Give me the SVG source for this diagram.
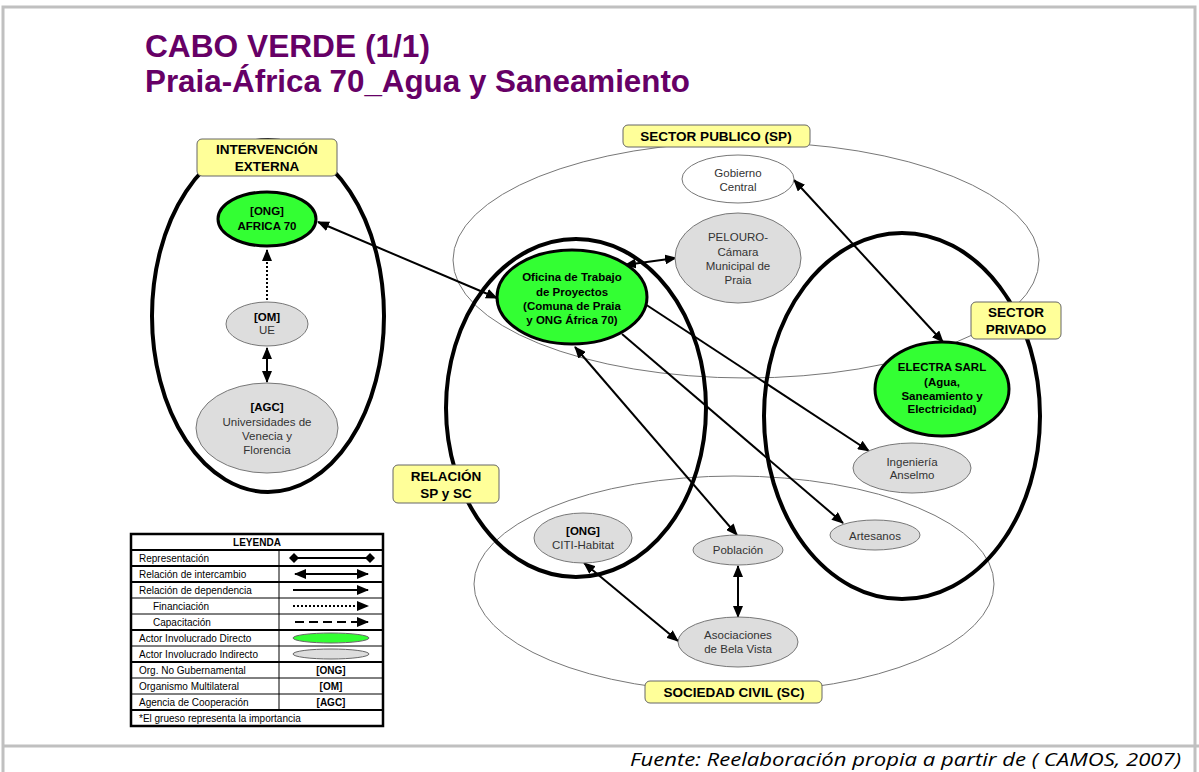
<svg xmlns="http://www.w3.org/2000/svg" width="1199" height="772" viewBox="0 0 1199 772">
<defs>
<style>
.t{font-family:"Liberation Sans",Arial,sans-serif}
.nt{font-family:"Liberation Sans",Arial,sans-serif;font-size:11.5px;fill:#333;text-anchor:middle}
.nb{font-family:"Liberation Sans",Arial,sans-serif;font-size:11.5px;font-weight:bold;fill:#000;text-anchor:middle}
.lb{font-family:"Liberation Sans",Arial,sans-serif;font-size:13.5px;font-weight:bold;fill:#000;text-anchor:middle}
.grp{fill:none;stroke:#000;stroke-width:4}
.sec{fill:none;stroke:#777;stroke-width:1}
.gray{fill:#dddddd;stroke:#777;stroke-width:1}
.green{fill:#33ff33;stroke:#000;stroke-width:3}
.box{fill:#ffff99;stroke:#666;stroke-width:1}
.c{fill:none;stroke:#000;stroke-width:2}
.lg{font-family:"Liberation Sans",Arial,sans-serif;font-size:10px;fill:#000}
.lgb{font-family:"Liberation Sans",Arial,sans-serif;font-size:10px;font-weight:bold;fill:#000;text-anchor:middle}
</style>
<marker id="ah" viewBox="0 0 12 10" refX="11" refY="5" markerWidth="12" markerHeight="10" markerUnits="userSpaceOnUse" orient="auto-start-reverse">
<path d="M0,0 L12,5 L0,10 z" fill="#000"/>
</marker>
<marker id="dm" viewBox="0 0 10 10" refX="5" refY="5" markerWidth="10" markerHeight="10" markerUnits="userSpaceOnUse" orient="auto">
<path d="M0,5 L5,0 L10,5 L5,10 z" fill="#000"/>
</marker>
</defs>
<rect width="1199" height="772" fill="#fff"/>
<g id="frame" fill="none" stroke="#c0c0c0" stroke-width="3">
<path d="M3,772 L3,7 L1195,7 L1195,772"/>
<path d="M3,746 L1199,746"/>
</g>
<g id="title">
<text class="t" x="145" y="57" font-size="32" font-weight="bold" fill="#660066" textLength="285" lengthAdjust="spacingAndGlyphs">CABO VERDE (1/1)</text>
<text class="t" x="145" y="92" font-size="32" font-weight="bold" fill="#660066" textLength="545" lengthAdjust="spacingAndGlyphs">Praia-África 70_Agua y Saneamiento</text>
</g>
<g id="groups">
<ellipse class="sec" cx="746" cy="260" rx="293" ry="118"/>
<ellipse class="sec" cx="734" cy="584" rx="260" ry="108"/>
<ellipse class="grp" cx="268" cy="316" rx="116" ry="176"/>
<ellipse class="grp" cx="576" cy="408" rx="130" ry="169"/>
<ellipse class="grp" cx="902" cy="416" rx="138" ry="183"/>
</g>
<g id="connectors">
<line class="c" x1="267" y1="300" x2="267" y2="250" stroke-dasharray="2,2" marker-end="url(#ah)"/>
<line class="c" x1="267" y1="348" x2="267" y2="382" marker-start="url(#ah)" marker-end="url(#ah)"/>
<line class="c" x1="318" y1="222" x2="497" y2="298" marker-start="url(#ah)" marker-end="url(#ah)"/>
<line class="c" x1="625" y1="265" x2="676" y2="258" marker-start="url(#ah)" marker-end="url(#ah)"/>
<line class="c" x1="794" y1="180" x2="943" y2="342" marker-start="url(#ah)" marker-end="url(#ah)"/>
<line class="c" x1="645" y1="304" x2="869" y2="451" marker-end="url(#ah)"/>
<line class="c" x1="622" y1="334" x2="843" y2="523" marker-end="url(#ah)"/>
<line class="c" x1="575" y1="347" x2="737" y2="535" marker-start="url(#ah)" marker-end="url(#ah)"/>
<line class="c" x1="584" y1="563" x2="678" y2="641" marker-start="url(#ah)" marker-end="url(#ah)"/>
<line class="c" x1="738" y1="566" x2="738" y2="617" marker-start="url(#ah)" marker-end="url(#ah)"/>
</g>
<g id="n-africa70">
<ellipse class="green" cx="267" cy="219" rx="49" ry="27" stroke-width="4"/>
<text class="nb" x="267" y="215">[ONG]</text>
<text class="nb" x="267" y="230">AFRICA 70</text>
</g>
<g id="n-ue">
<ellipse class="gray" cx="267" cy="324" rx="41" ry="22"/>
<text class="nb" x="267" y="321">[OM]</text>
<text class="nt" x="267" y="334">UE</text>
</g>
<g id="n-agc">
<ellipse class="gray" cx="267" cy="428" rx="71" ry="45"/>
<text class="nb" x="267" y="411">[AGC]</text>
<text class="nt" x="267" y="426">Universidades de</text>
<text class="nt" x="267" y="440">Venecia y</text>
<text class="nt" x="267" y="454">Florencia</text>
</g>
<g id="n-gobierno">
<ellipse cx="738" cy="179" rx="56" ry="24" fill="#fff" stroke="#777" stroke-width="1"/>
<text class="nt" x="738" y="177">Gobierno</text>
<text class="nt" x="738" y="191">Central</text>
</g>
<g id="n-pelouro">
<ellipse class="gray" cx="738" cy="258" rx="63" ry="45"/>
<text class="nt" x="738" y="241">PELOURO-</text>
<text class="nt" x="738" y="256">Cámara</text>
<text class="nt" x="738" y="270">Municipal de</text>
<text class="nt" x="738" y="284">Praia</text>
</g>
<g id="n-oficina">
<ellipse class="green" cx="572" cy="297" rx="75" ry="47"/>
<text class="nb" x="572" y="281">Oficina de Trabajo</text>
<text class="nb" x="572" y="296">de Proyectos</text>
<text class="nb" x="572" y="310">(Comuna de Praia</text>
<text class="nb" x="572" y="324">y ONG África 70)</text>
</g>
<g id="n-electra">
<ellipse class="green" cx="942" cy="389" rx="67" ry="47" fill="#66ff33"/>
<text class="nb" x="942" y="371">ELECTRA SARL</text>
<text class="nb" x="942" y="386">(Agua,</text>
<text class="nb" x="942" y="400">Saneamiento y</text>
<text class="nb" x="942" y="413">Electricidad)</text>
</g>
<g id="n-ingenieria">
<ellipse class="gray" cx="912" cy="468" rx="59" ry="25"/>
<text class="nt" x="912" y="466">Ingeniería</text>
<text class="nt" x="912" y="479">Anselmo</text>
</g>
<g id="n-artesanos">
<ellipse class="gray" cx="875" cy="535" rx="45" ry="15"/>
<text class="nt" x="875" y="540">Artesanos</text>
</g>
<g id="n-citi">
<ellipse class="gray" cx="583" cy="538" rx="49" ry="25"/>
<text class="nb" x="583" y="535">[ONG]</text>
<text class="nt" x="583" y="549">CITI-Habitat</text>
</g>
<g id="n-poblacion">
<ellipse class="gray" cx="738" cy="550" rx="45" ry="15"/>
<text class="nt" x="738" y="554">Población</text>
</g>
<g id="n-asociaciones">
<ellipse class="gray" cx="738" cy="642" rx="60" ry="25"/>
<text class="nt" x="738" y="639">Asociaciones</text>
<text class="nt" x="738" y="653">de Bela Vista</text>
</g>
<g id="labels">
<g id="l-intervencion">
<rect class="box" x="197" y="139" width="140" height="37" rx="5"/>
<text class="lb" x="267" y="154">INTERVENCIÓN</text>
<text class="lb" x="267" y="171">EXTERNA</text>
</g>
<g id="l-publico">
<rect class="box" x="623" y="125" width="187" height="22" rx="5"/>
<text class="lb" x="716" y="141">SECTOR PUBLICO (SP)</text>
</g>
<g id="l-privado">
<rect class="box" x="971" y="302" width="90" height="37" rx="5"/>
<text class="lb" x="1016" y="317">SECTOR</text>
<text class="lb" x="1016" y="334">PRIVADO</text>
</g>
<g id="l-relacion">
<rect class="box" x="393" y="465" width="106" height="38" rx="5"/>
<text class="lb" x="446" y="481">RELACIÓN</text>
<text class="lb" x="446" y="498">SP y SC</text>
</g>
<g id="l-civil">
<rect class="box" x="645" y="681" width="177" height="22" rx="5"/>
<text class="lb" x="734" y="697">SOCIEDAD CIVIL (SC)</text>
</g>
</g>
<g id="legend">
<rect x="131" y="534" width="252" height="192" fill="#fff" stroke="#000" stroke-width="2.5"/>
<g stroke="#000" stroke-width="1">
<line x1="131" y1="550" x2="383" y2="550" stroke-width="2"/>
<line x1="131" y1="566" x2="383" y2="566" stroke-width="2"/>
<line x1="131" y1="582" x2="383" y2="582" stroke-width="2"/>
<line x1="131" y1="598" x2="383" y2="598"/>
<line x1="131" y1="614" x2="383" y2="614"/>
<line x1="131" y1="630" x2="383" y2="630" stroke-width="2"/>
<line x1="131" y1="646" x2="383" y2="646"/>
<line x1="131" y1="662" x2="383" y2="662" stroke-width="2"/>
<line x1="131" y1="678" x2="383" y2="678"/>
<line x1="131" y1="694" x2="383" y2="694"/>
<line x1="131" y1="710" x2="383" y2="710" stroke-width="2"/>
<line x1="279" y1="550" x2="279" y2="710"/>
</g>
<text class="lgb" x="257" y="546">LEYENDA</text>
<text class="lg" x="139" y="562">Representación</text>
<text class="lg" x="139" y="578">Relación de intercambio</text>
<text class="lg" x="139" y="594">Relación de dependencia</text>
<text class="lg" x="153" y="610">Financiación</text>
<text class="lg" x="153" y="626">Capacitación</text>
<text class="lg" x="139" y="642">Actor Involucrado Directo</text>
<text class="lg" x="139" y="658">Actor Involucrado Indirecto</text>
<text class="lg" x="139" y="674">Org. No Gubernamental</text>
<text class="lg" x="139" y="690">Organismo Multilateral</text>
<text class="lg" x="139" y="706">Agencia de Cooperación</text>
<text class="lg" x="139" y="722">*El grueso representa la importancia</text>
<line class="c" x1="294" y1="558" x2="370" y2="558" marker-start="url(#dm)" marker-end="url(#dm)"/>
<line class="c" x1="295" y1="574" x2="368" y2="574" stroke-width="2.5" marker-start="url(#ah)" marker-end="url(#ah)"/>
<line class="c" x1="293" y1="590" x2="368" y2="590" stroke-width="2.5" marker-end="url(#ah)"/>
<line class="c" x1="293" y1="606" x2="368" y2="606" stroke-dasharray="2,2" marker-end="url(#ah)"/>
<line class="c" x1="295" y1="622" x2="368" y2="622" stroke-width="2.5" stroke-dasharray="9,5" marker-end="url(#ah)"/>
<ellipse cx="331" cy="638" rx="38" ry="5" fill="#33ff33" stroke="#666" stroke-width="1"/>
<ellipse cx="331" cy="654" rx="38" ry="5" fill="#dddddd" stroke="#666" stroke-width="1"/>
<text class="lgb" x="331" y="674">[ONG]</text>
<text class="lgb" x="331" y="690">[OM]</text>
<text class="lgb" x="331" y="706">[AGC]</text>
</g>
<text id="source" x="1181" y="766" font-family="'Open Sans','Noto Sans',sans-serif" font-style="italic" font-size="19" fill="#000" text-anchor="end" textLength="551" lengthAdjust="spacingAndGlyphs">Fuente: Reelaboración propia a partir de ( CAMOS, 2007)</text>
</svg>
